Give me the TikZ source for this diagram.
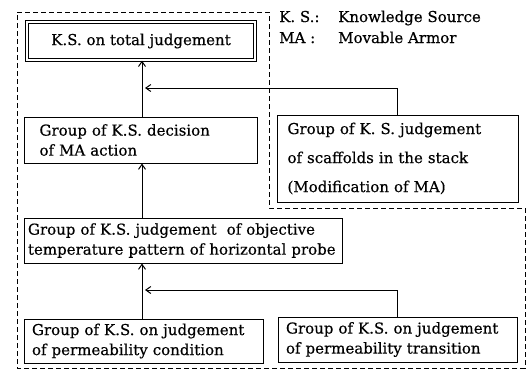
\documentclass[tikz,border=0pt]{standalone}
\usepackage{fontspec}
\setmainfont{DejaVu Serif}[FakeBold=0.4]
\usetikzlibrary{arrows.meta}
\tikzset{
  box/.style={draw, line width=1pt, inner ysep=0pt, align=left, font=\fontsize{15}{20}\selectfont},
  dbox/.style={draw, line width=0.9pt, double, double distance=1.8pt, inner sep=0pt, align=center, font=\fontsize{15}{20}\selectfont},
  conn/.style={line width=1pt, -{Straight Barb[length=5pt,width=7pt,line width=1pt]}},
  frame/.style={line width=0.9pt, dash pattern=on 5pt off 3pt},
  legend/.style={anchor=base west, inner sep=0pt, font=\fontsize{15}{18}\selectfont}
}
\begin{document}
\begin{tikzpicture}[x=1pt,y=-1pt]
\useasboundingbox (0,0) rectangle (526,370);
\fill[white] (0,0) rectangle (526,370);
% dashed frame
\draw[frame] (17,12) -- (269,12) -- (269,208) -- (525,208) -- (525,368) -- (17,368) -- cycle;
% boxes
\node[dbox, minimum width=228.4pt, minimum height=38.4pt] (total) at (141,41) {K.S. on total judgement};
\node[box, text width=202pt, inner xsep=15.5pt, minimum height=46pt] (decision) at (140.5,140)
  {Group of K.S. decision\\of MA action};
\node[box, text width=220pt, inner xsep=10.5pt, minimum height=87pt, font=\fontsize{15}{29}\selectfont] (scaffold) at (397.5,158.5)
  {Group of K. S. judgement\\of scaffolds in the stack\\(Modification of MA)};
\node[box, text width=310pt, inner xsep=4pt, minimum height=45pt] (objective) at (183,240.5)
  {Group of K.S. judgement\ \ of objective\\temperature pattern of horizontal probe};
\node[box, text width=223pt, inner xsep=8pt, minimum height=44pt] (condition) at (143.5,341)
  {Group of K.S. on judgement\\of permeability condition};
\node[box, text width=223pt, inner xsep=8pt, minimum height=45pt] (transition) at (397.5,339.5)
  {Group of K.S. on judgement\\of permeability transition};
% legend
\node[legend] (ks) at (279,22) {K. S.:};
\node[legend] (ksd) at (338,22) {Knowledge Source};
\node[legend] (ma) at (279,43) {MA};
\node[legend] (mac) at (310,43) {:};
\node[legend] (mad) at (338,43) {Movable Armor};
% connectors
\coordinate (spine) at (142,0);
\coordinate (tap) at (397,0);
\coordinate (j1) at (145,88);
\coordinate (j2) at (145,290);
\draw[conn] (decision.north -| spine) -- (total.south -| spine);
\draw[conn] (objective.north -| spine) -- (decision.south -| spine);
\draw[conn] (condition.north -| spine) -- (objective.south -| spine);
\draw[conn] (scaffold.north -| tap) |- (j1);
\draw[conn] (transition.north -| tap) |- (j2);
\end{tikzpicture}
\end{document}
